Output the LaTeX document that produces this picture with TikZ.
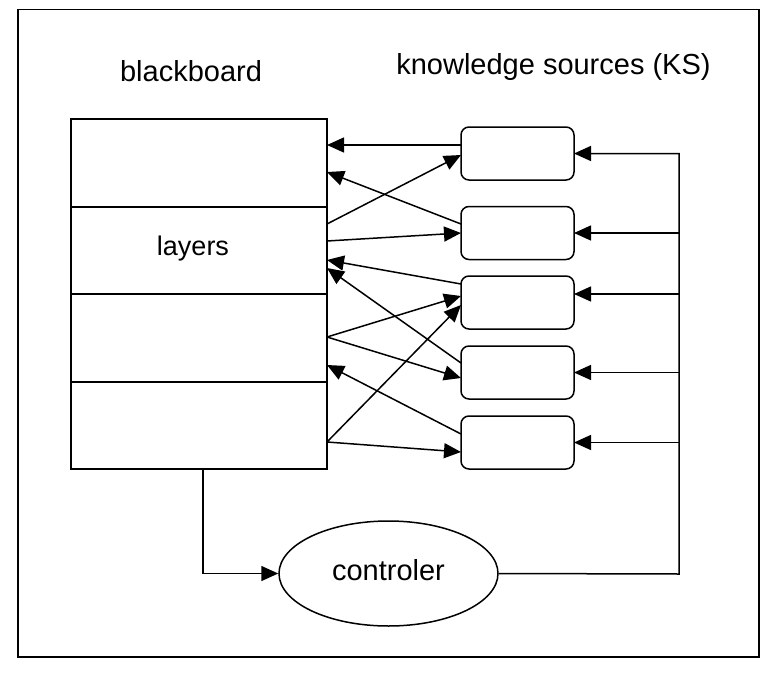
\documentclass[tikz,border=0pt]{standalone}
\usepackage{fontspec}
\setmainfont{Liberation Sans}
\usetikzlibrary{arrows.meta,shapes.geometric}
\begin{document}
\begin{tikzpicture}[x=1pt,y=-1pt,line width=1.5pt,
  arr/.style={-{Triangle[length=17pt,width=15pt]}},
  layer/.style={draw, minimum width=256pt, inner sep=0pt, outer sep=0pt},
  ksbox/.style={draw, rounded corners=8pt, minimum width=113pt, minimum height=53pt, inner sep=0pt, outer sep=0pt},
  lbl/.style={font=\fontsize{29}{34}\selectfont, anchor=base, inner sep=0pt}]
\useasboundingbox (0,0) rectangle (774,680);
\draw[line width=1.7pt] (18,9.5) rectangle (759,657);
% titles
\node[lbl] (tbb) at (191,81) {blackboard};
\node[lbl] (tks) at (553.5,74) {knowledge sources (KS)};
% blackboard layers
\node[layer, minimum height=88pt] (l1) at (199,163) {};
\node[layer, minimum height=87pt] (l2) at (199,250.5) {};
\node[layer, minimum height=88pt] (l3) at (199,338) {};
\node[layer, minimum height=87pt] (l4) at (199,425.5) {};
\node[lbl, font=\fontsize{27}{32}\selectfont] (tly) at (193,255) {layers};
% knowledge sources
\node[ksbox] (k1) at (517.5,153.5) {};
\node[ksbox] (k2) at (517.5,233) {};
\node[ksbox] (k3) at (517.5,302.5) {};
\node[ksbox] (k4) at (517.5,372.5) {};
\node[ksbox] (k5) at (517.5,442.5) {};
% controller
\node[draw, ellipse, minimum width=219pt, minimum height=105pt, inner sep=0pt,
      font=\fontsize{29}{34}\selectfont, text depth=7.8pt] (ctrl) at (388.5,573.5) {controler};
% arrows between blackboard and KS
\draw[arr] ([yshift=8.5pt]k1.west) -- ([yshift=18pt]l1.east);
\draw[arr] ([yshift=26.5pt]l2.east) -- ([yshift=-1.5pt]k1.west);
\draw[arr] ([yshift=9pt]k2.west) -- ([yshift=-9pt]l1.east);
\draw[arr] ([yshift=9.5pt]l2.east) -- (k2.west);
\draw[arr] ([yshift=18.5pt]k3.west) -- ([yshift=-9.5pt]l2.east);
\draw[arr] ([yshift=9.5pt]k4.west) -- ([yshift=-17.5pt]l2.east);
\draw[arr] ([yshift=1pt]l3.east) -- ([yshift=6.5pt]k3.west);
\draw[arr] ([yshift=1pt]l3.east) -- ([yshift=-5.5pt]k4.west);
\draw[arr] ([yshift=-16.5pt]l4.east) -- ([yshift=-2.5pt]k3.west);
\draw[arr] ([yshift=8.5pt]k5.west) -- ([yshift=-27pt]l3.east);
\draw[arr] ([yshift=-16.5pt]l4.east) -- ([yshift=-9.5pt]k5.west);
% controller connections
\coordinate (v) at (679,574);
\coordinate (k3r) at ([yshift=8.5pt]k3.east);
\draw[arr] ([xshift=4pt]l4.south) |- (ctrl.west);
\draw[arr] (ctrl.east) -- (v) |- (k1.east);
\draw[arr] (v |- k2.east) -- (k2.east);
\draw[arr] (v |- k3r) -- (k3r);
\draw[arr] (v |- k4.east) -- (k4.east);
\draw[arr] (v |- k5.east) -- (k5.east);
\end{tikzpicture}
\end{document}
